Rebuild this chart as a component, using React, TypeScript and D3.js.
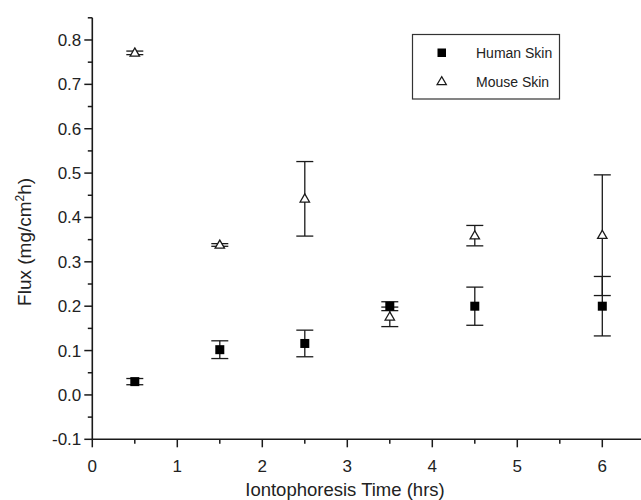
import React, { useEffect, useRef } from "react";
import * as d3 from "d3";

const times = [0.5, 1.5, 2.5, 3.5, 4.5, 6];
const humanFlux = [0.03, 0.102, 0.116, 0.2, 0.2, 0.2];
const humanErr = [0.007, 0.02, 0.03, 0.01, 0.043, 0.067];
const mouseFlux = [0.771, 0.338, 0.442, 0.176, 0.359, 0.36];
const mouseErr = [0.004, 0.003, 0.084, 0.022, 0.023, 0.136];
const seriesNames = ["Human Skin", "Mouse Skin"];
const xTicks = [0, 1, 2, 3, 4, 5, 6];
const yTicks = [-0.1, 0, 0.1, 0.2, 0.3, 0.4, 0.5, 0.6, 0.7, 0.8];

const W = 641;
const H = 500;
const FONT = "'Liberation Sans', Arial, sans-serif";

export default function App() {
  const ref = useRef<SVGSVGElement | null>(null);

  useEffect(() => {
    const svg = d3.select(ref.current);
    svg.selectAll("*").remove();

    const x = d3.scaleLinear().domain([0, 7]).range([92.3, 687.3]);
    const y = d3.scaleLinear().domain([-0.1, 0.85]).range([439.3, 17.8]);
    const ink = "#1a1a1a";

    // x axis
    const gx = svg.append("g");
    gx.append("line")
      .attr("x1", x(0)).attr("x2", W).attr("y1", y(-0.1)).attr("y2", y(-0.1))
      .attr("stroke", ink).attr("stroke-width", 1.6);
    const xMinor = d3.range(0.5, 6.6, 1);
    gx.selectAll("line.xmaj").data(xTicks).enter().append("line")
      .attr("x1", (d) => x(d)).attr("x2", (d) => x(d))
      .attr("y1", y(-0.1)).attr("y2", y(-0.1) + 8)
      .attr("stroke", ink).attr("stroke-width", 1.5);
    gx.selectAll("line.xmin").data(xMinor).enter().append("line")
      .attr("x1", (d) => x(d)).attr("x2", (d) => x(d))
      .attr("y1", y(-0.1)).attr("y2", y(-0.1) + 4.5)
      .attr("stroke", ink).attr("stroke-width", 1.5);
    gx.selectAll("text").data(xTicks).enter().append("text")
      .attr("x", (d) => x(d)).attr("y", 472)
      .attr("text-anchor", "middle")
      .attr("font-family", FONT).attr("font-size", 17).attr("fill", "#222")
      .text((d) => String(d));
    svg.append("text")
      .attr("x", 345).attr("y", 496)
      .attr("text-anchor", "middle")
      .attr("font-family", FONT).attr("font-size", 18.5).attr("fill", "#222")
      .text("Iontophoresis Time (hrs)");

    // y axis
    const gy = svg.append("g");
    gy.append("line")
      .attr("x1", x(0)).attr("x2", x(0)).attr("y1", y(-0.1)).attr("y2", y(0.85))
      .attr("stroke", ink).attr("stroke-width", 1.6);
    const yMinor = d3.range(-0.05, 0.86, 0.1);
    gy.selectAll("line.ymaj").data(yTicks).enter().append("line")
      .attr("x1", x(0) - 8).attr("x2", x(0))
      .attr("y1", (d) => y(d)).attr("y2", (d) => y(d))
      .attr("stroke", ink).attr("stroke-width", 1.5);
    gy.selectAll("line.ymin").data(yMinor).enter().append("line")
      .attr("x1", x(0) - 4.5).attr("x2", x(0))
      .attr("y1", (d) => y(d)).attr("y2", (d) => y(d))
      .attr("stroke", ink).attr("stroke-width", 1.5);
    gy.selectAll("text").data(yTicks).enter().append("text")
      .attr("x", x(0) - 11).attr("y", (d) => y(d) + 6)
      .attr("text-anchor", "end")
      .attr("font-family", FONT).attr("font-size", 17).attr("fill", "#222")
      .text((d) => d.toFixed(1));
    const yt = svg.append("text")
      .attr("transform", `translate(31, ${y(0.345)}) rotate(-90)`)
      .attr("text-anchor", "middle")
      .attr("font-family", FONT).attr("font-size", 19).attr("fill", "#222");
    yt.append("tspan").text("Flux (mg/cm");
    yt.append("tspan").attr("font-size", 12).attr("dy", -7).text("2");
    yt.append("tspan").attr("dy", 7).text("h)");

    const capW = 8.5;
    const drawErr = (vals: number[], errs: number[]) => {
      const g = svg.append("g").attr("stroke", ink).attr("stroke-width", 1.3);
      times.forEach((t, i) => {
        const cx = x(t);
        const hi = y(vals[i] + errs[i]);
        const lo = y(vals[i] - errs[i]);
        g.append("line").attr("x1", cx).attr("x2", cx).attr("y1", hi).attr("y2", lo);
        g.append("line").attr("x1", cx - capW).attr("x2", cx + capW).attr("y1", hi).attr("y2", hi);
        g.append("line").attr("x1", cx - capW).attr("x2", cx + capW).attr("y1", lo).attr("y2", lo);
      });
    };

    const tri = d3.symbol().type(d3.symbolTriangle).size(38);
    // mouse
    drawErr(mouseFlux, mouseErr);
    svg.append("g").selectAll("path").data(times).enter().append("path")
      .attr("d", tri)
      .attr("transform", (d, i) => `translate(${x(d)},${y(mouseFlux[i]) + 0.5})`)
      .attr("fill", "#fff").attr("stroke", ink).attr("stroke-width", 1.3);
    // human
    drawErr(humanFlux, humanErr);
    svg.append("g").selectAll("rect").data(times).enter().append("rect")
      .attr("x", (d) => x(d) - 4.5).attr("y", (d, i) => y(humanFlux[i]) - 4.5)
      .attr("width", 9).attr("height", 9)
      .attr("fill", "#000");

    // legend
    const lg = svg.append("g");
    lg.append("rect")
      .attr("x", 412.5).attr("y", 34.5).attr("width", 147).attr("height", 64.5)
      .attr("fill", "#fff").attr("stroke", "#333").attr("stroke-width", 1.2);
    lg.append("rect").attr("x", 437.5).attr("y", 48.5).attr("width", 8.5).attr("height", 8.5).attr("fill", "#000");
    lg.append("path").attr("d", tri).attr("transform", "translate(441.7,82)")
      .attr("fill", "#fff").attr("stroke", ink).attr("stroke-width", 1.2);
    lg.selectAll("text").data(seriesNames).enter().append("text")
      .attr("x", 476).attr("y", (d, i) => 58 + i * 29)
      .attr("font-family", FONT).attr("font-size", 14).attr("fill", "#222")
      .text((d) => d);
  }, []);

  return (
    <svg
      ref={ref}
      width={W}
      height={H}
      style={{ position: "absolute", left: 0, top: 0, background: "#fff" }}
    />
  );
}
